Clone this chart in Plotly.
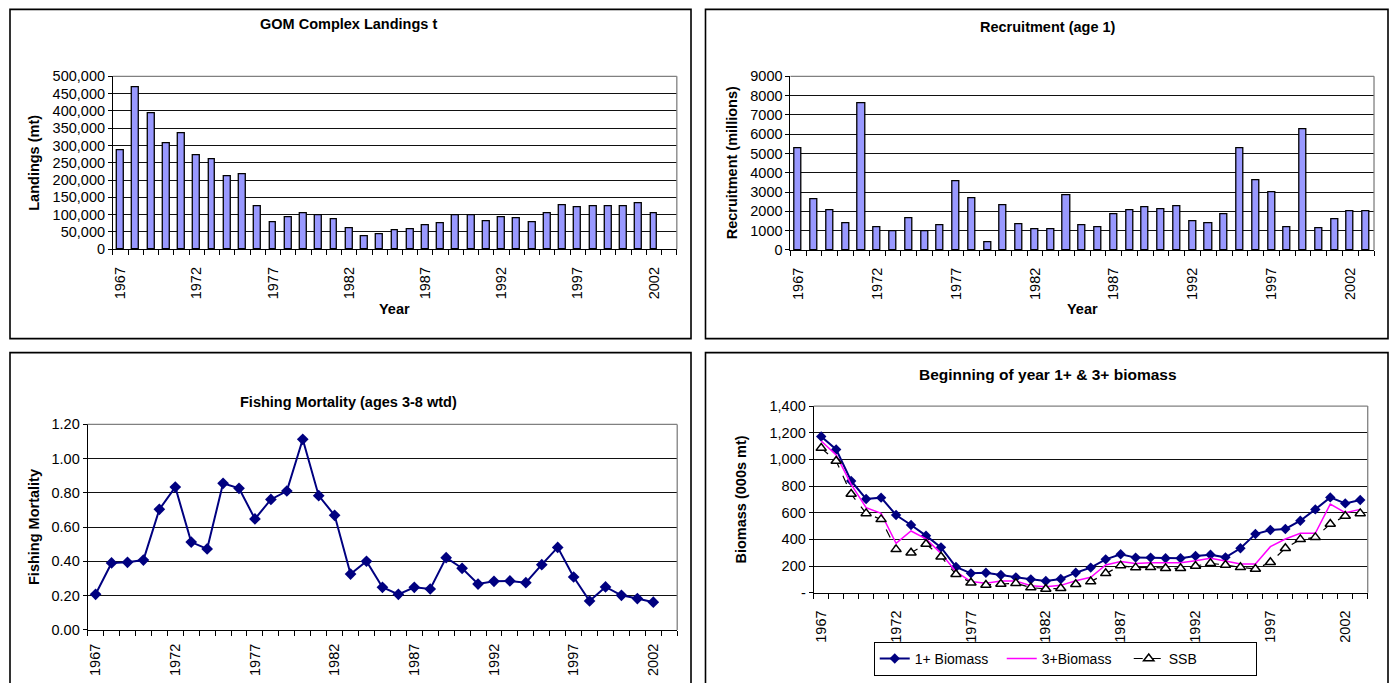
import plotly.graph_objects as go

# Page = 1397x691 with the default 8px body margin around a 1381x675 figure.
PAGE_W, PAGE_H = 1397, 691
OFF = 8
W, H = PAGE_W - 2 * OFF, PAGE_H - 2 * OFF
# vertical calibration of the photographed page (target px -> page px)
VS, VO = 0.977, 7.8
FONT = "Liberation Sans, Arial, sans-serif"

# ---------------- data ----------------
years = list(range(1967, 2004))
label_years = [1967, 1972, 1977, 1982, 1987, 1992, 1997, 2002]
label_text = ["1967", "1972", "1977", "1982", "1987", "1992", "1997", "2002"]

landings = [285000, 469000, 393000, 306000, 335000, 271000, 260000, 210000, 218000,
            124000, 77000, 92000, 105000, 99000, 86000, 61000, 36000, 44000, 56000,
            57000, 69000, 74000, 97000, 97000, 80000, 93000, 88000, 77000, 103000,
            126000, 120000, 125000, 124000, 125000, 133000, 103000]

recruitment = [5250, 2630, 2060, 1380, 7620, 1160, 985, 1630, 985, 1280, 3540, 2700,
               400, 2300, 1315, 1070, 1055, 2850, 1260, 1175, 1830, 2040, 2210, 2125,
               2265, 1500, 1365, 1865, 5270, 3610, 2970, 1175, 6250, 1125, 1610, 2005,
               2005]

fishing_mortality = [0.208, 0.391, 0.395, 0.408, 0.704, 0.834, 0.513, 0.473, 0.856,
                     0.827, 0.648, 0.762, 0.811, 1.113, 0.784, 0.669, 0.326, 0.401,
                     0.249, 0.208, 0.249, 0.239, 0.422, 0.360, 0.268, 0.284, 0.286,
                     0.276, 0.381, 0.482, 0.309, 0.169, 0.251, 0.202, 0.183, 0.162]

biomass_1plus = [1172, 1075, 838, 703, 713, 583, 508, 428, 340, 193, 145, 150, 133, 115,
                 100, 87, 103, 150, 188, 250, 288, 263, 263, 258, 258, 275, 285, 265,
                 333, 440, 470, 478, 540, 625, 715, 670, 695]

biomass_3plus = [1138, 1033, 813, 638, 595, 370, 463, 403, 295, 158, 83, 70, 88, 88,
                 52, 45, 55, 90, 115, 208, 233, 218, 225, 225, 225, 240, 258, 238,
                 215, 215, 345, 403, 445, 445, 665, 600, 625]

ssb = [1085, 988, 740, 595, 550, 325, 300, 365, 270, 138, 75, 58, 65, 70, 38, 28, 33,
       63, 83, 145, 203, 188, 190, 183, 183, 200, 220, 208, 190, 178, 228, 333, 400,
       415, 515, 575, 595]

bio_tickvals = [0, 200, 400, 600, 800, 1000, 1200, 1400]
bio_ticktext = ["-", "200", "400", "600", "800", "1,000", "1,200", "1,400"]

# ---------------- helpers ----------------
def fx(p):
    return (p - OFF) / W

def fy(p):
    page_y = (p - VO) / VS
    return 1 - (page_y - OFF) / H

def px_x(a, b):
    return [fx(a), fx(b)]

def px_y(top, bottom):
    return [fy(bottom), fy(top)]

bounds = [y - 0.5 for y in years] + [years[-1] + 0.5]
TICK_SIZE = 14.5

def xaxis_cfg(dom, anchor, standoff):
    return dict(domain=dom, anchor=anchor, range=[years[0] - 0.5, years[-1] + 0.5],
                tickmode="array", tickvals=label_years, ticktext=label_text,
                tickangle=-90, ticks="", showgrid=False, zeroline=False,
                showline=True, linecolor="black", linewidth=1,
                tickfont=dict(family=FONT, size=TICK_SIZE, color="black"),
                ticklabelstandoff=standoff,
                minor=dict(tickmode="array", tickvals=bounds, ticks="outside",
                           ticklen=5, tickcolor="black", tickwidth=1, showgrid=False),
                fixedrange=True)

def yaxis_cfg(dom, anchor, rng, dtick, fmt, **kw):
    d = dict(domain=dom, anchor=anchor, range=rng, dtick=dtick, tick0=0,
             tickformat=fmt, showgrid=True, gridcolor="#111111", gridwidth=1,
             zeroline=False, showline=True, linecolor="black", linewidth=1,
             ticks="outside", ticklen=4, tickcolor="black",
             tickfont=dict(family=FONT, size=TICK_SIZE, color="black"), fixedrange=True)
    d.update(kw)
    return d

bar_style = dict(color="#9999FF", line=dict(color="black", width=1.3))

fig = go.Figure()
fig.add_trace(go.Bar(x=years[:len(landings)], y=landings, xaxis="x", yaxis="y",
                     marker=bar_style, width=0.45, showlegend=False))
fig.add_trace(go.Bar(x=years[:len(recruitment)], y=recruitment, xaxis="x2", yaxis="y2",
                     marker=bar_style, width=0.45, showlegend=False))
fig.add_trace(go.Scatter(x=years[:len(fishing_mortality)], y=fishing_mortality,
                         xaxis="x3", yaxis="y3", mode="lines+markers",
                         line=dict(color="#000080", width=2),
                         marker=dict(symbol="diamond", size=9, color="#000080"),
                         showlegend=False))
fig.add_trace(go.Scatter(x=years, y=biomass_1plus, xaxis="x4", yaxis="y4",
                         name="1+ Biomass", mode="lines+markers",
                         line=dict(color="#000080", width=2),
                         marker=dict(symbol="diamond", size=8, color="#000080")))
fig.add_trace(go.Scatter(x=years, y=biomass_3plus, xaxis="x4", yaxis="y4",
                         name="3+Biomass", mode="lines",
                         line=dict(color="#FF00FF", width=1.5)))
fig.add_trace(go.Scatter(x=years, y=ssb, xaxis="x4", yaxis="y4",
                         name="SSB", mode="lines+markers",
                         line=dict(color="black", width=1.2, dash="dash"),
                         marker=dict(symbol="triangle-up", size=9, color="white",
                                     line=dict(color="black", width=1.5))))

fig.update_layout(
    width=W, height=H, margin=dict(l=0, r=0, t=0, b=0),
    paper_bgcolor="white", plot_bgcolor="white",
    font=dict(family=FONT, size=14, color="black"),
    bargap=0,
    xaxis=xaxis_cfg(px_x(112, 676.3), "y", 11),
    yaxis=yaxis_cfg(px_y(76, 249), "x", [0, 500000], 50000, ",d"),
    xaxis2=xaxis_cfg(px_x(790, 1374), "y2", 11),
    yaxis2=yaxis_cfg(px_y(76, 249.7), "x2", [0, 9000], 1000, "d"),
    xaxis3=xaxis_cfg(px_x(86.7, 676.7), "y3", 7),
    yaxis3=yaxis_cfg(px_y(424.3, 630), "x3", [0, 1.2], 0.2, ".2f"),
    xaxis4=xaxis_cfg(px_x(813.3, 1367.7), "y4", 11),
    yaxis4=yaxis_cfg(px_y(406, 592.7), "x4", [0, 1400], 200, None,
                     tickmode="array", tickvals=bio_tickvals, ticktext=bio_ticktext),
    legend=dict(orientation="h", x=fx(1065), y=fy(659), xanchor="center",
                yanchor="middle", bordercolor="black", borderwidth=1, bgcolor="white",
                font=dict(family=FONT, size=14, color="black"),
                entrywidth=82, entrywidthmode="pixels", tracegroupgap=0),
)

shapes = []
# chart-area borders (kept inside the drawable area)
for x0, y0, x1, y1 in [(9, 9, 690.5, 338.5), (705, 9, 1388, 338.5),
                       (9, 352.5, 690.5, 720), (705, 352.5, 1388, 720)]:
    shapes.append(dict(type="rect", xref="paper", yref="paper",
                       x0=fx(x0), x1=fx(x1), y0=fy(y1), y1=fy(y0),
                       line=dict(color="black", width=1.6), fillcolor="rgba(0,0,0,0)",
                       layer="above"))
# plot-area top/right grey border
for xr, yr in [("x", "y"), ("x2", "y2"), ("x3", "y3"), ("x4", "y4")]:
    shapes.append(dict(type="line", xref=f"{xr} domain", yref=f"{yr} domain",
                       x0=0, x1=1, y0=1, y1=1, line=dict(color="#808080", width=1.3)))
    shapes.append(dict(type="line", xref=f"{xr} domain", yref=f"{yr} domain",
                       x0=1, x1=1, y0=0, y1=1, line=dict(color="#808080", width=1.3)))
fig.update_layout(shapes=shapes)

def ann(text, xp, yp, size=14.5, angle=0):
    return dict(text=text, x=fx(xp), y=fy(yp), xref="paper", yref="paper",
                xanchor="center", yanchor="middle", showarrow=False, textangle=angle,
                font=dict(family=FONT, size=size, color="black"))

fig.update_layout(annotations=[
    ann("<b>GOM Complex Landings t</b>", 347.5, 24),
    ann("<b>Recruitment (age 1)</b>", 1047.5, 27),
    ann("<b>Fishing Mortality (ages 3-8 wtd)</b>", 347.5, 402),
    ann("<b>Beginning of year 1+ & 3+ biomass</b>", 1047.5, 374, size=15.5),
    ann("<b>Landings (mt)</b>", 33, 162.5, angle=-90),
    ann("<b>Recruitment (millions)</b>", 731, 162.5, angle=-90),
    ann("<b>Fishing Mortality</b>", 33, 527, angle=-90),
    ann("<b>Biomass (000s mt)</b>", 741, 499, angle=-90),
    ann("<b>Year</b>", 394, 309),
    ann("<b>Year</b>", 1082, 309),
])

fig.write_html("out.html", config={"displayModeBar": False})
